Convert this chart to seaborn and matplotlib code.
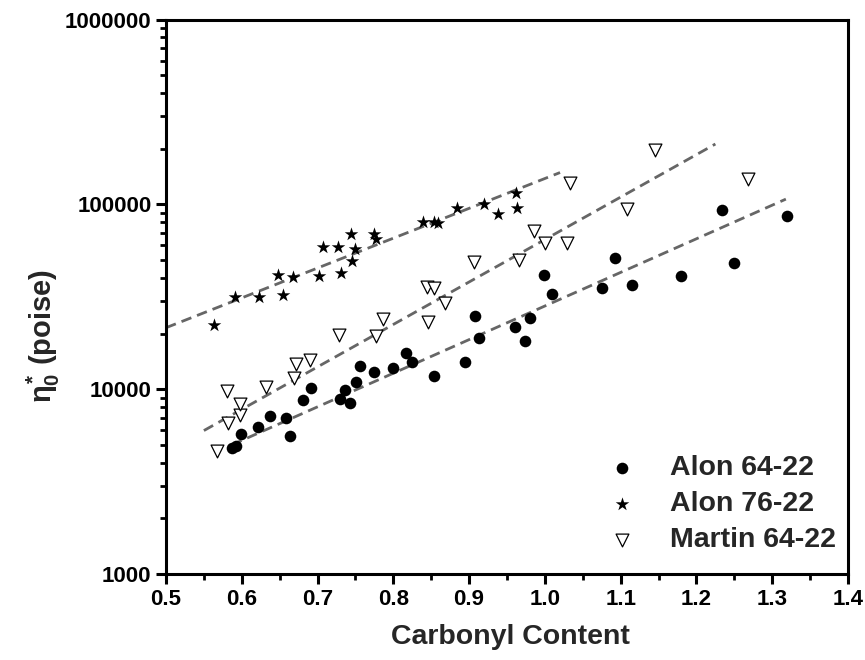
import matplotlib
matplotlib.use("Agg")
import matplotlib.pyplot as plt
import matplotlib.ticker as mticker
import seaborn as sns
import pandas as pd

# ---------------- data ----------------
alon6422_x = [0.587, 0.592, 0.599, 0.621, 0.637, 0.658, 0.663, 0.681, 0.691, 0.730,
              0.736, 0.743, 0.751, 0.756, 0.774, 0.800, 0.817, 0.825, 0.854, 0.895,
              0.913, 0.908, 0.961, 0.974, 0.981, 0.999, 1.009, 1.075, 1.093, 1.115,
              1.179, 1.234, 1.249, 1.320]
alon6422_y = [4800, 4900, 5750, 6250, 7140, 7020, 5590, 8790, 10120, 8870,
              9950, 8460, 10910, 13370, 12360, 13090, 15770, 14060, 11850, 14100,
              18880, 25000, 21600, 18300, 24200, 41700, 32700, 35200, 51200, 36600,
              41000, 93300, 48100, 86700]

alon7622_x = [0.563, 0.591, 0.623, 0.655, 0.648, 0.667, 0.702, 0.731, 0.707, 0.727,
              0.746, 0.744, 0.749, 0.774, 0.777, 0.839, 0.854, 0.859, 0.884, 0.920,
              0.938, 0.962, 0.963]
alon7622_y = [22300, 31700, 31700, 32500, 41400, 40600, 41200, 42600, 58900, 58900,
              49600, 69000, 57400, 69000, 64800, 80400, 80400, 79700, 95700, 101000,
              88900, 115000, 95700]

martin6422_x = [0.567, 0.580, 0.582, 0.597, 0.598, 0.632, 0.669, 0.672, 0.690, 0.728,
                0.777, 0.787, 0.846, 0.844, 0.854, 0.868, 0.907, 0.966, 0.986, 1.000,
                1.029, 1.033, 1.145, 1.109, 1.268]
martin6422_y = [4650, 9830, 6550, 7260, 8320, 10250, 11470, 13600, 14300, 19700,
                19400, 24000, 23200, 35900, 35200, 29400, 48600, 50100, 71900, 62100,
                62100, 130000, 197000, 94200, 137000]

# dashed trend lines (end points)
fit7622_x = [0.500, 1.020]
fit7622_y = [21500, 148600]
fitmartin_x = [0.550, 1.225]
fitmartin_y = [5970, 212000]
fit6422_x = [0.587, 1.318]
fit6422_y = [5000, 106700]

series_names = ["Alon 64-22", "Alon 76-22", "Martin 64-22"]
x_ticks = [0.5, 0.6, 0.7, 0.8, 0.9, 1.0, 1.1, 1.2, 1.3, 1.4]
y_ticks = [1000, 10000, 100000, 1000000]

# ---------------- style ----------------
sns.set_style("ticks")
plt.rcParams["font.family"] = ["Liberation Sans", "DejaVu Sans"]
plt.rcParams["font.weight"] = "bold"
plt.rcParams["mathtext.fontset"] = "custom"
plt.rcParams["mathtext.rm"] = "Liberation Sans:bold"
plt.rcParams["mathtext.it"] = "Liberation Sans:bold"
plt.rcParams["mathtext.bf"] = "Liberation Sans:bold"

fig = plt.figure(figsize=(8.65, 6.6), dpi=100)
ax = fig.add_axes([166 / 865, (660 - 574) / 660, (848 - 166) / 865, (574 - 19.5) / 660])

df_a = pd.DataFrame({"x": alon6422_x, "y": alon6422_y})
df_b = pd.DataFrame({"x": alon7622_x, "y": alon7622_y})
df_m = pd.DataFrame({"x": martin6422_x, "y": martin6422_y})

line_kw = dict(color="#666666", lw=2.0, dashes=(3.8, 2.2), legend=False, zorder=1)
sns.lineplot(x=fit7622_x, y=fit7622_y, ax=ax, **line_kw)
sns.lineplot(x=fitmartin_x, y=fitmartin_y, ax=ax, **line_kw)
sns.lineplot(x=fit6422_x, y=fit6422_y, ax=ax, **line_kw)

sns.scatterplot(data=df_a, x="x", y="y", ax=ax, marker="o", s=70, color="black",
                edgecolor="black", linewidth=0, label=series_names[0], zorder=3)
sns.scatterplot(data=df_b, x="x", y="y", ax=ax, marker="*", s=105, color="black",
                edgecolor="black", linewidth=0, label=series_names[1], zorder=3)
sns.scatterplot(data=df_m, x="x", y="y", ax=ax, marker="v", s=85, facecolor="white",
                edgecolor="black", linewidth=0.9, label=series_names[2], zorder=3)

ax.set_yscale("log")
ax.set_xlim(0.5, 1.4)
ax.set_ylim(1000, 1000000)

ax.xaxis.set_major_locator(mticker.FixedLocator(x_ticks))
ax.xaxis.set_major_formatter(mticker.FuncFormatter(lambda v, p: f"{v:.1f}"))
ax.xaxis.set_minor_locator(mticker.MultipleLocator(0.05))
ax.yaxis.set_major_locator(mticker.FixedLocator(y_ticks))
ax.yaxis.set_major_formatter(mticker.FuncFormatter(lambda v, p: f"{int(round(v))}"))
ax.yaxis.set_minor_locator(mticker.LogLocator(base=10, subs=[2, 3, 4, 5, 6, 7, 8, 9]))
ax.yaxis.set_minor_formatter(mticker.NullFormatter())

for sp in ax.spines.values():
    sp.set_visible(True)
    sp.set_linewidth(2.2)
    sp.set_color("black")

ax.tick_params(which="major", direction="out", length=7, width=2.2, labelsize=16,
               top=False, right=False, colors="black")
ax.tick_params(which="minor", direction="out", length=4, width=2.0,
               top=False, right=False, colors="black")
for lab in ax.get_xticklabels() + ax.get_yticklabels():
    lab.set_fontweight("bold")

ax.set_xlabel("Carbonyl Content", fontsize=20.5, fontweight="bold")
ax.set_ylabel(r"$\eta^{*}_{0}$ (poise)", fontsize=21, fontweight="bold")
ax.xaxis.set_label_coords(0.505, -0.09)
ax.yaxis.set_label_coords(-0.153, 0.43)

handles, labels = ax.get_legend_handles_labels()
keep = [(h, l) for h, l in zip(handles, labels) if l in series_names]
leg = ax.legend([h for h, l in keep], [l for h, l in keep], loc="upper left",
                bbox_to_anchor=(0.627, 0.24), frameon=False,
                prop={"weight": "bold", "size": 20.5}, handletextpad=1.2,
                labelspacing=0.35, borderpad=0, handlelength=1.0)

fig.savefig("out.png", dpi=100)
